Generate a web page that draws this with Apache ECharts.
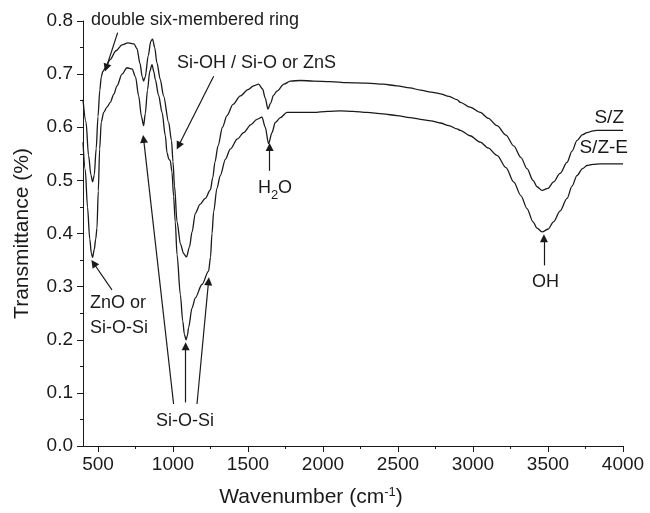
<!DOCTYPE html>
<html>
<head>
<meta charset="utf-8">
<script src="https://cdn.jsdelivr.net/npm/echarts@6/dist/echarts.min.js"></script>
<style>
html,body{margin:0;padding:0;background:#fff;}
#chart{width:650px;height:513px;}
</style>
</head>
<body>
<div id="chart"></div>
<script>
// ---- data ----
const szX = [400,420,437,453,464,475,488,500,512,522,532,550,580,620,660,700,740,760,780,795,804,815,835,852,864,878,893,915,937,971,990,1000,1010,1027,1050,1071,1090,1110,1127,1149,1180,1215,1249,1265,1280,1300,1330,1360,1400,1449,1500,1537,1571,1597,1615,1633,1650,1670,1693,1740,1782,1850,1937,2049,2160,2293,2400,2493,2580,2649,2720,2782,2840,2893,2916,2980,3049,3100,3160,3220,3271,3320,3360,3400,3427,3460,3500,3537,3580,3627,3660,3693,3730,3760,3800,3827,3900,4000];
const szY = [0.652,0.61,0.547,0.51,0.497,0.51,0.56,0.62,0.67,0.695,0.705,0.712,0.727,0.744,0.755,0.759,0.757,0.748,0.72,0.695,0.687,0.695,0.735,0.762,0.766,0.75,0.721,0.69,0.659,0.609,0.575,0.535,0.49,0.422,0.38,0.362,0.356,0.375,0.403,0.438,0.455,0.466,0.482,0.505,0.535,0.565,0.60,0.622,0.643,0.659,0.671,0.678,0.681,0.672,0.655,0.634,0.645,0.66,0.668,0.681,0.687,0.688,0.687,0.686,0.684,0.683,0.681,0.678,0.674,0.670,0.666,0.663,0.658,0.652,0.647,0.638,0.628,0.617,0.603,0.585,0.565,0.543,0.522,0.500,0.488,0.481,0.485,0.497,0.513,0.534,0.555,0.575,0.586,0.590,0.593,0.594,0.594,0.594];
const szeX = [400,415,430,445,456,464,475,485,493,502,511,522,538,560,582,605,627,660,693,727,750,771,790,804,815,830,845,860,872,882,904,927,949,960,972,982,993,1004,1015,1027,1049,1065,1076,1087,1096,1104,1127,1149,1193,1237,1250,1260,1271,1293,1315,1350,1382,1430,1471,1520,1560,1593,1615,1637,1660,1682,1716,1760,1849,1937,2030,2116,2200,2293,2400,2493,2580,2649,2720,2782,2840,2893,2916,2980,3049,3100,3160,3220,3271,3320,3360,3400,3427,3460,3500,3537,3580,3627,3660,3693,3730,3760,3800,3849,3900,4000];
const szeY = [0.572,0.52,0.45,0.39,0.362,0.355,0.37,0.39,0.41,0.48,0.559,0.61,0.628,0.638,0.647,0.662,0.678,0.70,0.712,0.710,0.695,0.659,0.62,0.603,0.625,0.67,0.705,0.718,0.705,0.69,0.660,0.628,0.584,0.552,0.540,0.537,0.516,0.47,0.422,0.36,0.285,0.235,0.21,0.200,0.208,0.223,0.26,0.279,0.304,0.329,0.355,0.40,0.441,0.485,0.509,0.54,0.559,0.578,0.590,0.605,0.615,0.619,0.60,0.569,0.59,0.609,0.618,0.628,0.628,0.628,0.630,0.631,0.630,0.628,0.625,0.622,0.618,0.615,0.612,0.608,0.603,0.597,0.594,0.584,0.572,0.561,0.547,0.524,0.497,0.471,0.447,0.422,0.410,0.403,0.408,0.422,0.442,0.466,0.489,0.509,0.522,0.528,0.530,0.531,0.531,0.531];
const seriesNames = ['S/Z', 'S/Z-E'];
const xMajorTicks = [500,1000,1500,2000,2500,3000,3500,4000];
const xMinorTicks = [750,1250,1750,2250,2750,3250,3750];
// annotation arrows: [fromWavenumber, fromT, toWavenumber, toT]
const arrows = [
  [631,0.778,555,0.712],
  [1271,0.696,1037,0.565],
  [1644,0.518,1644,0.563],
  [593,0.294,471,0.344],
  [1004,0.079,804,0.578],
  [1084,0.082,1084,0.188],
  [1160,0.079,1237,0.31],
  [3473,0.340,3473,0.391]
];

const zip = (xs, ys) => xs.map((x, i) => [x, ys[i]]);
const FONT = '"Liberation Sans", Arial, Helvetica, sans-serif';
const INK = '#1a1a1a';

const chart = echarts.init(document.getElementById('chart'), null, {renderer: 'canvas'});

const txt = (text, x, y, size, align) => ({
  type: 'text', x: x, y: y, silent: true,
  style: {text: text, fill: INK, font: size + 'px ' + FONT, align: align || 'left', verticalAlign: 'middle'}
});

const xAxisBase = {
  type: 'value', min: 400, max: 4000,
  splitLine: {show: false},
  axisLine: {show: true, onZero: false, lineStyle: {color: INK, width: 1}}
};

chart.setOption({
  animation: false,
  backgroundColor: '#fff',
  grid: {left: 83, right: 27, top: 21, bottom: 64},
  xAxis: [
    Object.assign({}, xAxisBase, {
      name: '{a|Wavenumber (cm}{p|-1}{a|)}',
      nameLocation: 'middle', nameGap: 40,
      nameTextStyle: {
        padding: [0, 84, 0, 0],
        rich: {
          a: {fontSize: 21, fontFamily: FONT, color: INK},
          p: {fontSize: 13, fontFamily: FONT, color: INK, padding: [0, 0, 10, 0]}
        }
      },
      axisTick: {show: true, inside: false, length: 6, customValues: xMajorTicks, lineStyle: {color: INK}},
      axisLabel: {show: true, margin: 9, customValues: xMajorTicks, fontSize: 19, fontFamily: FONT, color: INK,
        formatter: v => String(v)}
    }),
    Object.assign({}, xAxisBase, {
      position: 'bottom',
      axisLine: {show: false},
      axisTick: {show: true, inside: false, length: 3, customValues: xMinorTicks, lineStyle: {color: INK}},
      axisLabel: {show: false}
    })
  ],
  yAxis: {
    type: 'value', min: 0, max: 0.8, interval: 0.1,
    name: 'Transmittance (%)', nameLocation: 'middle', nameGap: 50,
    nameTextStyle: {fontSize: 21, fontFamily: FONT, color: INK},
    splitLine: {show: false},
    axisLine: {show: true, lineStyle: {color: INK, width: 1}},
    axisTick: {show: true, inside: false, length: 6, lineStyle: {color: INK}},
    minorTick: {show: true, splitNumber: 2, length: 3, lineStyle: {color: INK}},
    axisLabel: {margin: 10, fontSize: 19, fontFamily: FONT, color: INK,
      formatter: v => v.toFixed(1)}
  },
  series: [
    {
      name: seriesNames[0], type: 'line', data: zip(szX, szY),
      showSymbol: false, smooth: 0.3, smoothMonotone: 'x',
      lineStyle: {color: INK, width: 1.3},
      markLine: {
        silent: true, animation: false,
        symbol: ['none', 'triangle'], symbolSize: 8,
        label: {show: false},
        itemStyle: {color: INK},
        lineStyle: {color: INK, width: 1.2, type: 'solid'},
        emphasis: {disabled: true},
        data: arrows.map(a => [{coord: [a[0], a[1]]}, {coord: [a[2], a[3]]}])
      }
    },
    {
      name: seriesNames[1], type: 'line', data: zip(szeX, szeY),
      showSymbol: false, smooth: 0.3, smoothMonotone: 'x',
      lineStyle: {color: INK, width: 1.3}
    }
  ],
  graphic: [
    txt('double six-membered ring', 91, 20, 18),
    txt('Si-OH / Si-O or ZnS', 177, 63, 18),
    txt('H', 258, 188, 18),
    txt('2', 271, 195, 13),
    txt('O', 278, 188, 18),
    txt('ZnO or', 90, 303, 18),
    txt('Si-O-Si', 90, 328, 18),
    txt('Si-O-Si', 156, 421, 18),
    txt('OH', 532, 282, 18),
    txt(seriesNames[0], 624, 118, 19, 'right'),
    txt(seriesNames[1], 628, 148, 19, 'right')
  ]
});
</script>
</body>
</html>
